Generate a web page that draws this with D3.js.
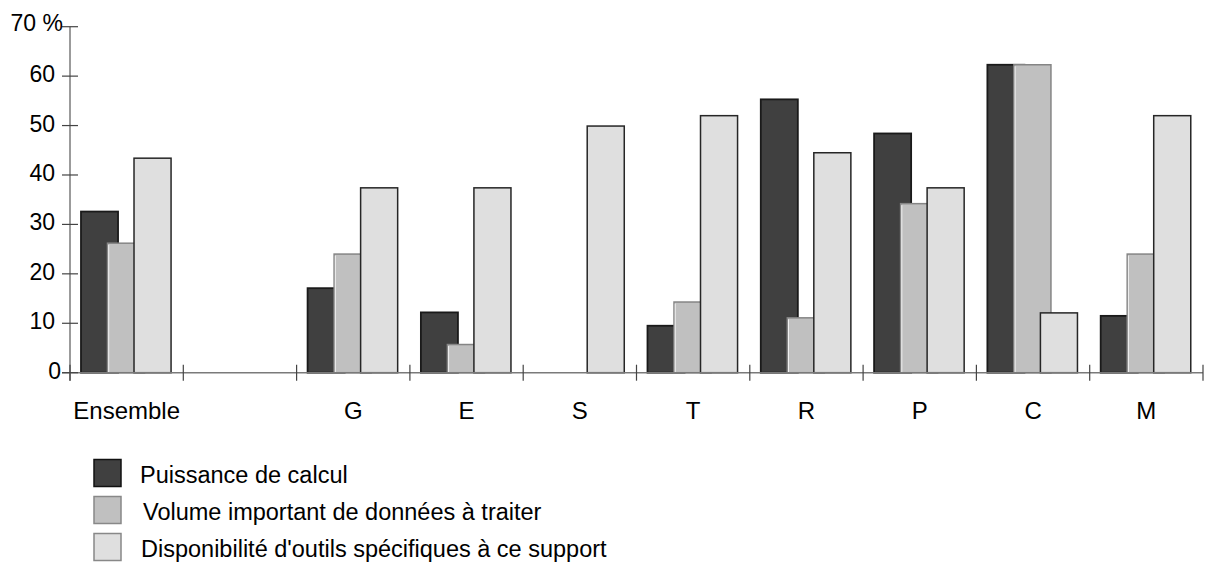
<!DOCTYPE html>
<html><head><meta charset="utf-8">
<script src="https://cdn.jsdelivr.net/npm/d3@7"></script>
<style>body{margin:0;background:#fff}svg{display:block;font-family:"Liberation Sans",Arial,sans-serif}</style>
</head><body><svg id="c" width="1205" height="564"></svg>
<script>
const categories = ["Ensemble", "", "G", "E", "S", "T", "R", "P", "C", "M"];
const puissance = [32.6, null, 17.1, 12.2, 0, 9.5, 55.3, 48.4, 62.3, 11.5];
const volume    = [26.2, null, 24.0, 5.7, 0, 14.3, 11.1, 34.2, 62.3, 24.0];
const outils    = [43.4, null, 37.4, 37.4, 49.9, 52.0, 44.5, 37.4, 12.1, 52.0];
const seriesNames = ["Puissance de calcul", "Volume important de données à traiter", "Disponibilité d'outils spécifiques à ce support"];
const yTicks = [0, 10, 20, 30, 40, 50, 60, 70];

const fills = ["#404040", "#c0c0c0", "#dfdfdf"];
const strokes = ["#1a1a1a", "#858585", "#262626"];
const svg = d3.select("#c");
const x = d3.scaleBand().domain(d3.range(categories.length)).range([70, 1203]).padding(0);
const y = d3.scaleLinear().domain([0, 70]).range([372.7, 26.7]);
const B = x.bandwidth();
const inner = d3.scaleLinear().domain([0, 2]).range([B * 0.097, B * 0.565]);
const bw = B * 0.327;

const series = [puissance, volume, outils];
series.forEach((vals, s) => {
  const g = svg.append("g");
  const data = vals.map((v, i) => ({v, i})).filter(d => d.v);
  g.selectAll("rect")
    .data(data)
    .join("rect")
    .attr("x", d => x(d.i) + inner(s))
    .attr("y", d => y(d.v))
    .attr("width", bw)
    .attr("height", d => y(0) - y(d.v))
    .attr("fill", fills[s])
    .attr("stroke", strokes[s])
    .attr("stroke-width", s === 0 ? 1.8 : 1.5);
  if (s === 1) {
    // light bevel on the left edge of the medium bars
    g.selectAll("line").data(data).join("line")
      .attr("x1", d => x(d.i) + inner(s) + 1.2).attr("x2", d => x(d.i) + inner(s) + 1.2)
      .attr("y1", d => y(d.v) + 1.5).attr("y2", y(0))
      .attr("stroke", "#f2f2f2").attr("stroke-width", 1);
  }
});

// axes
const axisColor = "#7a7a7a";
svg.append("line").attr("x1", 70).attr("x2", 70).attr("y1", y(70)).attr("y2", y(0) + 8)
  .attr("stroke", axisColor).attr("stroke-width", 1.5);
svg.append("line").attr("x1", 62).attr("x2", 1203).attr("y1", y(0)).attr("y2", y(0))
  .attr("stroke", axisColor).attr("stroke-width", 1.5);
svg.append("g").selectAll("line").data(yTicks).join("line")
  .attr("x1", 62).attr("x2", 78).attr("y1", d => y(d)).attr("y2", d => y(d))
  .attr("stroke", "#444").attr("stroke-width", 1.2);
const bounds = d3.range(categories.length + 1).map(i => i < categories.length ? x(i) : x(categories.length - 1) + B);
svg.append("g").selectAll("line").data(bounds).join("line")
  .attr("x1", d => d).attr("x2", d => d).attr("y1", y(0) - 8).attr("y2", y(0) + 8)
  .attr("stroke", "#444").attr("stroke-width", 1.2);

svg.append("g").selectAll("text").data(yTicks).join("text")
  .attr("x", d => d === 70 ? 63 : d === 0 ? 61 : 55)
  .attr("y", d => y(d) + (d === 70 ? 4 : 6))
  .attr("text-anchor", "end").attr("font-size", 23).attr("fill", "#000")
  .text(d => d === 70 ? "70 %" : d);

svg.append("g").selectAll("text").data(categories).join("text")
  .attr("x", (d, i) => x(i) + B / 2).attr("y", 419)
  .attr("text-anchor", "middle").attr("font-size", 24).attr("fill", "#000")
  .text(d => d);

// legend
const lg = svg.append("g");
const legY = [459.5, 496.5, 533.5];
const legTx = [140, 143, 141];
seriesNames.forEach((n, s) => {
  lg.append("rect").attr("x", 94).attr("y", legY[s]).attr("width", 27).attr("height", 27)
    .attr("fill", fills[s]).attr("stroke", s === 0 ? "#111" : "#888").attr("stroke-width", 1.5);
  lg.append("text").attr("x", legTx[s]).attr("y", legY[s] + 23).attr("font-size", 23.5).attr("fill", "#000").text(n);
});
</script></body></html>
